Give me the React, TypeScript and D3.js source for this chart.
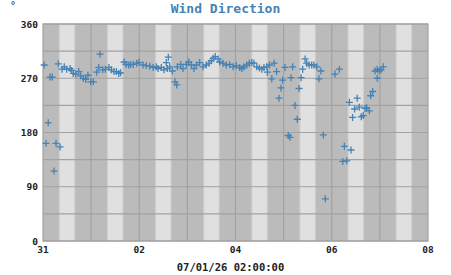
import React from "react";
import * as d3 from "d3";

// hours since 2025-12-31 00:00
const hours = [
  0.6, 1.5, 2.6, 3.5, 4.6, 5.5, 6.5, 7.6, 8.5, 9.5, 10.6, 11.8, 13.5, 14.3, 15.1, 16.3, 17.8, 18.8, 20.1, 21.3,
  22.4, 23.8, 25.1, 26.8, 27.8, 28.4, 29.8, 31.1, 32.9, 34.1, 35.4, 36.6, 37.8, 38.7, 40.5, 41.4, 42.7, 43.7, 45.0, 46.7,
  47.9, 49.9, 51.5, 53.2, 54.9, 56.5, 57.4, 59.0, 60.3, 61.5, 62.0, 62.5, 63.2, 64.5, 65.8, 66.7, 67.0, 68.7, 69.8, 71.5,
  72.7, 74.0, 75.3, 76.5, 78.1, 79.8, 81.4, 82.8, 83.9, 84.9, 85.9, 87.3, 88.1, 89.8, 91.4, 93.1, 94.8, 96.4, 98.1, 99.2,
  100.2, 101.6, 102.9, 104.1, 105.2, 106.6, 107.9, 109.1, 110.2, 111.6, 111.9, 112.9, 114.1, 115.3, 116.5, 117.7, 118.7, 119.5, 120.7, 122.3,
  123.2, 123.7, 124.5, 125.7, 126.8, 127.7, 128.7, 129.5, 130.7, 131.5, 132.7, 134.0, 135.1, 136.5, 137.6, 138.6, 139.8, 140.8, 145.6, 147.8,
  149.5, 150.3, 151.5, 152.8, 153.6, 154.4, 155.4, 156.7, 157.7, 158.7, 159.7, 160.6, 161.4, 162.7, 163.4, 164.4, 165.6, 166.7, 166.7, 167.7,
  168.6, 169.7,
];
const directions = [
  292, 162, 196, 272, 272, 116, 162, 294, 156, 285, 289, 285, 286, 283, 278, 277, 281, 274, 270, 268,
  275, 264, 264, 280, 288, 310, 284, 285, 288, 284, 281, 281, 278, 279, 297, 293, 292, 293, 293, 295,
  296, 292, 291, 290, 288, 289, 286, 288, 284, 296, 286, 305, 289, 282, 264, 259, 289, 293, 286, 293,
  297, 292, 286, 292, 296, 289, 292, 295, 299, 303, 306, 302, 297, 295, 292, 293, 289, 291, 288, 286,
  289, 292, 295, 296, 295, 289, 287, 285, 288, 289, 280, 292, 269, 295, 281, 237, 254, 267, 288, 175,
  172, 271, 289, 225, 202, 253, 271, 285, 302, 295, 292, 292, 292, 289, 269, 282, 176, 70, 277, 285,
  132, 157, 133, 230, 151, 205, 219, 237, 222, 206, 208, 220, 221, 216, 241, 248, 282, 285, 270, 282,
  284, 289,
];
const yTicks = [0, 90, 180, 270, 360];
const xTickDayOffsets = [0, 2, 4, 6, 8];
const title = "Wind Direction";
const unitLabel = "°";
const timeStamp = "07/01/26 02:00:00";

const W = 451, H = 275;
const M = { left: 43, right: 428, top: 24, bottom: 241 };
const start = new Date(2025, 11, 31);
const end = new Date(2026, 0, 8);

export default function App() {
  const x = d3.scaleTime().domain([start, end]).range([M.left, M.right]);
  const y = d3.scaleLinear().domain([0, 360]).range([M.bottom, M.top]);
  const days = d3.timeDay.range(start, end);
  const dayLines = d3.timeDay.range(d3.timeDay.offset(start, 1), end);
  const labelDays = xTickDayOffsets.map((k) => d3.timeDay.offset(start, k));
  const fmt = d3.timeFormat("%d");
  const hGrid = d3.range(0, 361, 45);
  const mono = "'DejaVu Sans Mono', monospace";
  const points = hours.map((h, i) => ({ t: d3.timeMinute.offset(start, Math.round(h * 60)), v: directions[i] }));

  return (
    <svg width={W} height={H} style={{ position: "absolute", left: 0, top: 0 }}>
      <defs>
        <linearGradient id="day" x1="0" x2="1" y1="0" y2="0">
          <stop offset="0" stopColor="#bbbbbb" />
          <stop offset="0.12" stopColor="#e0e0e0" />
          <stop offset="0.88" stopColor="#e0e0e0" />
          <stop offset="1" stopColor="#bbbbbb" />
        </linearGradient>
      </defs>
      <rect width={W} height={H} fill="#ffffff" />
      <rect x={M.left} y={M.top} width={M.right - M.left} height={M.bottom - M.top} fill="#bbbbbb" />
      {days.map((d, i) => {
        const a = x(d3.timeMinute.offset(d, 7.6 * 60));
        const b = x(d3.timeMinute.offset(d, 16.4 * 60));
        return <rect key={i} x={a} y={M.top} width={b - a} height={M.bottom - M.top} fill="url(#day)" />;
      })}
      {hGrid.map((v) => (
        <line key={"h" + v} x1={M.left} x2={M.right} y1={y(v)} y2={y(v)} stroke="#a2a2a2" strokeWidth={1.2} />
      ))}
      {dayLines.map((d, i) => (
        <line key={"v" + i} x1={x(d)} x2={x(d)} y1={M.top} y2={M.bottom} stroke="#a2a2a2" strokeWidth={1.2} />
      ))}
      <rect x={M.left} y={M.top} width={M.right - M.left} height={M.bottom - M.top} fill="none" stroke="#a2a2a2" strokeWidth={1.2} />
      {points.map((p, i) => {
        const cx = x(p.t), cy = y(p.v);
        return (
          <path key={"p" + i} d={`M${cx - 3.5},${cy}H${cx + 3.5}M${cx},${cy - 3.5}V${cy + 3.5}`} stroke="#4682b4" strokeWidth={1.3} fill="none" />
        );
      })}
      {yTicks.map((v) => (
        <text key={"yl" + v} x={38} y={y(v) + 3.5} textAnchor="end" fontFamily={mono} fontWeight="bold" fontSize={9.5} fill="#222">
          {v}
        </text>
      ))}
      {labelDays.map((d, i) => (
        <text key={"xl" + i} x={x(d)} y={253} textAnchor="middle" fontFamily={mono} fontWeight="bold" fontSize={9.5} fill="#222">
          {fmt(d)}
        </text>
      ))}
      <text x={13} y={9} textAnchor="middle" fontFamily={mono} fontSize={10} fill="#222">{unitLabel}</text>
      <text x={225.5} y={13} textAnchor="middle" fontFamily={mono} fontWeight="bold" fontSize={13} fill="#4682b4">{title}</text>
      <text x={230.5} y={271} textAnchor="middle" fontFamily={mono} fontWeight="bold" fontSize={10.5} fill="#222">{timeStamp}</text>
    </svg>
  );
}
